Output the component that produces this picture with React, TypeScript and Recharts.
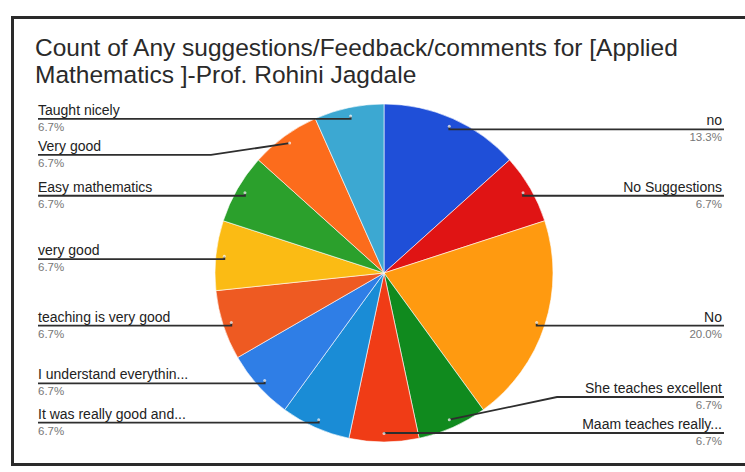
import React from 'react';
import { PieChart, Pie, Cell } from 'recharts';

const labels = [
  'no',
  'No Suggestions',
  'No',
  'She teaches excellent',
  'Maam teaches really...',
  'It was really good and...',
  'I understand everythin...',
  'teaching is very good',
  'very good',
  'Easy mathematics',
  'Very good',
  'Taught nicely',
];
const counts = [2, 1, 3, 1, 1, 1, 1, 1, 1, 1, 1, 1];
const colors = [
  '#1f4fd8', '#e01414', '#ff9a10', '#108a1e', '#f03c16', '#1a8cd6',
  '#2f7ee6', '#ee5a22', '#fbbb14', '#2ba02c', '#fc6c1c', '#3ca8d2',
];

const data = labels.map((name, i) => ({ name, value: counts[i] }));

const W = 745;
const H = 472;
const RADIAN = Math.PI / 180;
const GAP = 36;
const MAX_Y = 430;
const LEFT_X = 38;
const RIGHT_X = 724;

// spread the label rows per side so they don't collide
function layoutY(cx: number, cy: number, r: number): number[] {
  const total = counts.reduce((a, b) => a + b, 0);
  let cum = 0;
  const items = counts.map((c, i) => {
    const theta = ((cum + c / 2) / total) * 360;
    cum += c;
    const ay = cy - r * 0.95 * Math.cos(theta * RADIAN);
    const right = Math.sin(theta * RADIAN) >= 0;
    return { i, ay, right, y: ay };
  });
  const out: number[] = [];
  [true, false].forEach((side) => {
    const s = items.filter((it) => it.right === side).sort((a, b) => a.ay - b.ay);
    for (let k = 1; k < s.length; k++) s[k].y = Math.max(s[k].y, s[k - 1].y + GAP);
    if (s.length) s[s.length - 1].y = Math.min(s[s.length - 1].y, MAX_Y);
    for (let k = s.length - 2; k >= 0; k--) s[k].y = Math.min(s[k].y, s[k + 1].y - GAP);
    s.forEach((it) => (out[it.i] = it.y));
  });
  return out;
}

const renderLabel = (props: any) => {
  const { cx, cy, midAngle, outerRadius, index, percent, name } = props;
  const ys = layoutY(cx, cy, outerRadius);
  const ar = outerRadius * 0.95;
  const ax = cx + ar * Math.cos(-midAngle * RADIAN);
  const ay = cy + ar * Math.sin(-midAngle * RADIAN);
  const right = ax >= cx;
  const ly = ys[index] + 3;
  const bx = right ? cx + outerRadius + 4 : cx - outerRadius - 4;
  const ex = right ? RIGHT_X : LEFT_X;
  const bendX = Math.abs(ly - ay) < 4 ? ax : bx;
  return (
    <g>
      <polyline
        points={`${ax},${ay} ${bendX},${ly} ${ex},${ly}`}
        fill="none"
        stroke="#2e2e2e"
        strokeWidth={1.8}
      />
      <circle cx={ax} cy={ay} r={1.5} fill="#fff" opacity={0.7} />
      <text
        x={right ? ex - 2 : ex}
        y={ly - 4}
        textAnchor={right ? 'end' : 'start'}
        fontSize={14}
        fill="#222"
        fontFamily="Liberation Sans, Arial, sans-serif"
      >
        {name}
      </text>
      <text
        x={right ? ex - 2 : ex}
        y={ly + 12}
        textAnchor={right ? 'end' : 'start'}
        fontSize={11.5}
        fill="#777"
        fontFamily="Liberation Sans, Arial, sans-serif"
      >
        {(percent * 100).toFixed(1)}%
      </text>
    </g>
  );
};

export default function App() {
  return (
    <div
      style={{
        position: 'fixed',
        left: 0,
        top: 0,
        width: W,
        height: H,
        overflow: 'hidden',
        background: '#fff',
        fontFamily: 'Liberation Sans, Arial, sans-serif',
      }}
    >
      <div
        style={{
          position: 'absolute',
          left: 11,
          top: 16,
          width: W + 20,
          height: 450,
          border: '3px solid #2a2a2a',
          boxSizing: 'border-box',
        }}
      />
      <div
        style={{
          position: 'absolute',
          left: 35,
          top: 34,
          fontSize: 24.5,
          lineHeight: '27px',
          color: '#2a2a2a',
          width: 705,
          whiteSpace: 'nowrap',
        }}
      >
        Count of Any suggestions/Feedback/comments for [Applied
        <br />
        Mathematics ]-Prof. Rohini Jagdale
      </div>
      <div style={{ position: 'absolute', left: 0, top: 0 }}>
        <PieChart width={W} height={H} margin={{ top: 0, right: 0, bottom: 0, left: 0 }}>
          <Pie
            data={data}
            dataKey="value"
            nameKey="name"
            cx={384}
            cy={273}
            outerRadius={169}
            startAngle={90}
            endAngle={-270}
            stroke="#ffffff"
            strokeWidth={0.6}
            label={renderLabel}
            labelLine={false}
            isAnimationActive={false}
          >
            {data.map((d, i) => (
              <Cell key={d.name} fill={colors[i]} />
            ))}
          </Pie>
        </PieChart>
      </div>
    </div>
  );
}
